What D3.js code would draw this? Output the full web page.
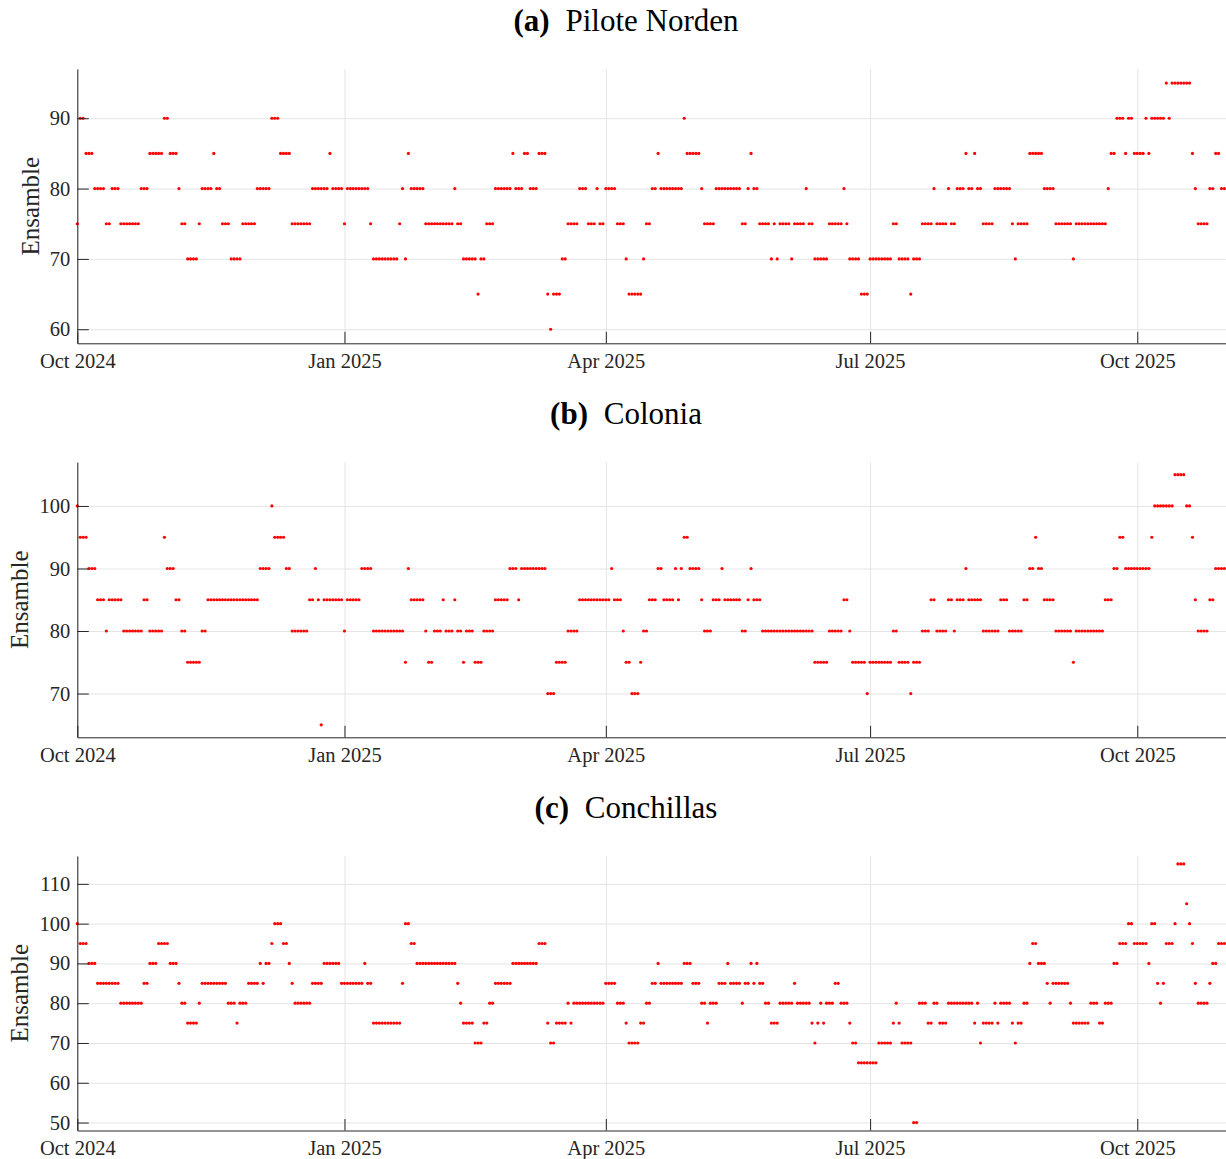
<!DOCTYPE html>
<html>
<head>
<meta charset="utf-8">
<script src="https://cdn.jsdelivr.net/npm/d3@7"></script>
<style>
  body { margin: 0; background: #fff; }
  svg { display: block; }
</style>
</head>
<body>
<svg id="chart" width="1226" height="1159"></svg>
<script>
// daily series, Oct 1 2024 onward, stored as [value, consecutive days]
const startDate = new Date(2024, 9, 1);
const endDate = new Date(2025, 10, 1);
const xTickDates = [new Date(2024, 9, 1), new Date(2025, 0, 1), new Date(2025, 3, 1), new Date(2025, 6, 1), new Date(2025, 9, 1)];

const piloteNordenRuns = [
  [75,1],[90,2],[85,3],[80,4],[75,2],[80,3],[75,7],[80,3],[85,5],[90,2],[85,3],[80,1],[75,2],[70,4],[75,1],
  [80,4],[85,1],[80,2],[75,3],[70,4],[75,5],[80,5],[90,3],[85,4],[75,7],[80,6],[85,1],[80,4],[75,1],[80,8],
  [75,1],[70,9],[75,1],[80,1],[70,1],[85,1],[80,5],[75,10],[80,1],[75,2],[70,5],[65,1],[70,2],[75,3],[80,6],
  [85,1],[80,3],[85,2],[80,3],[85,3],[65,1],[60,1],[65,3],[70,2],[75,4],[80,3],[75,3],[80,1],[75,2],[80,4],
  [75,3],[70,1],[65,5],[70,1],[75,2],[80,2],[85,1],[80,8],[90,1],[85,5],[80,1],[75,4],[80,9],[75,2],[80,1],
  [85,1],[80,2],[75,4],[70,1],[75,1],[70,1],[75,4],[70,1],[75,4],[80,1],[75,2],[70,5],[75,5],[80,1],[75,1],
  [70,4],[65,3],[70,8],[75,2],[70,4],[65,1],[70,3],[75,4],[80,1],[75,4],[80,1],[75,2],[80,3],[85,1],[80,2],
  [85,1],[80,2],[75,4],[80,6],[75,1],[70,1],[75,4],[85,5],[80,4],[75,6],[70,1],[75,11],[80,1],[85,2],[90,3],
  [85,1],[90,2],[85,4],[90,1],[85,1],[90,5],[95,1],[90,1],[95,7],[85,1],[80,1],[75,4],[80,2],[85,2],[80,2]
];

const coloniaRuns = [
  [100,1],[95,3],[90,3],[85,3],[80,1],[85,5],[80,7],[85,2],[80,5],[95,1],[90,3],[85,2],[80,2],[75,5],[80,2],
  [85,18],[90,4],[100,1],[95,4],[90,2],[80,6],[85,2],[90,1],[85,1],[65,1],[85,7],[80,1],[85,5],[90,4],[80,11],
  [75,1],[90,1],[85,5],[80,1],[75,2],[80,3],[85,1],[80,3],[85,1],[80,2],[75,1],[80,3],[75,3],[80,4],[85,5],
  [90,3],[85,1],[90,9],[70,3],[75,4],[80,4],[85,11],[90,1],[85,3],[80,1],[75,2],[70,3],[75,1],[80,2],[85,3],
  [90,2],[85,4],[90,1],[85,1],[90,1],[95,2],[90,4],[85,1],[80,3],[85,3],[90,1],[85,6],[80,2],[85,1],[90,1],
  [85,3],[80,18],[75,5],[80,5],[85,2],[80,1],[75,5],[70,1],[75,8],[80,2],[75,4],[70,1],[75,3],[80,3],[85,2],
  [80,4],[85,2],[80,1],[85,3],[90,1],[85,5],[80,6],[85,3],[80,5],[85,2],[90,2],[95,1],[90,2],[85,4],[80,6],
  [75,1],[80,10],[85,3],[90,2],[95,2],[90,9],[95,1],[100,7],[105,4],[100,2],[95,1],[85,1],[80,4],[85,2],[90,4]
];

const conchillasRuns = [
  [100,1],[95,3],[90,3],[85,8],[80,8],[85,2],[90,3],[95,4],[90,3],[85,1],[80,2],[75,4],[80,1],[85,9],[80,3],
  [75,1],[80,3],[85,4],[90,1],[85,1],[90,2],[95,1],[100,3],[95,2],[90,1],[85,1],[80,6],[85,4],[90,6],[85,8],
  [90,1],[85,2],[75,10],[85,1],[100,2],[95,2],[90,14],[85,1],[80,1],[75,4],[70,3],[75,2],[80,2],[85,6],[90,9],
  [95,3],[75,1],[70,2],[75,4],[80,1],[75,1],[80,11],[85,4],[80,3],[75,1],[70,4],[75,2],[80,2],[85,2],[90,1],
  [85,8],[90,3],[85,3],[80,2],[75,1],[80,3],[85,3],[90,1],[85,4],[80,1],[85,2],[90,1],[85,1],[90,1],[85,2],
  [80,2],[75,3],[80,5],[85,1],[80,5],[75,1],[70,1],[75,1],[80,1],[75,1],[80,3],[85,2],[80,3],[75,1],[70,2],
  [65,7],[70,5],[75,1],[80,1],[75,1],[70,4],[50,2],[80,3],[75,2],[80,2],[75,3],[80,9],[75,1],[80,1],[70,1],
  [75,4],[80,1],[75,1],[80,4],[75,1],[70,1],[75,2],[80,2],[90,1],[95,2],[90,3],[85,1],[80,1],[85,6],[80,1],
  [75,6],[80,3],[75,2],[80,3],[90,2],[95,3],[100,2],[95,5],[90,1],[100,2],[85,1],[80,1],[85,1],[95,3],[100,1],
  [115,3],[105,1],[100,1],[95,1],[85,1],[80,4],[85,1],[90,2],[95,3]
];

const panelLetters = ["(a)", "(b)", "(c)"];
const panelNames = ["Pilote Norden", "Colonia", "Conchillas"];
const yDomains = [[58, 97], [63, 107], [48, 117]];
const yTicks = [[60, 70, 80, 90], [70, 80, 90, 100], [50, 60, 70, 80, 90, 100, 110]];
const yLabel = "Ensamble";

const svg = d3.select("#chart");
const fontFamily = '"Liberation Serif", "Times New Roman", serif';
const inkColor = "#262626";
const left = 77.3, right = 1227.3;

const x = d3.scaleTime().domain([startDate, endDate]).range([left, right]);

function expand(runs) {
  const out = [];
  let day = 0;
  runs.forEach(([v, n]) => {
    for (let k = 0; k < n; k++) {
      out.push({ date: d3.timeDay.offset(startDate, day), value: v });
      day++;
    }
  });
  return out;
}

const panels = [
  { runs: piloteNordenRuns, top: 69.0, bottom: 343.3, labelX: 30 },
  { runs: coloniaRuns, top: 462.2, bottom: 737.3, labelX: 19 },
  { runs: conchillasRuns, top: 856.0, bottom: 1130.5, labelX: 19 }
];

panels.forEach((p, i) => {
  const y = d3.scaleLinear().domain(yDomains[i]).range([p.bottom, p.top]);
  const g = svg.append("g");
  const width = 1226 - left;

  // grid
  g.append("g")
    .attr("transform", `translate(${left},0)`)
    .call(d3.axisLeft(y).tickValues(yTicks[i]).tickSize(-width).tickFormat(""))
    .call(s => s.select(".domain").remove())
    .call(s => s.selectAll(".tick line").attr("stroke", "#e4e4e4").attr("stroke-width", 1));
  g.append("g")
    .attr("transform", `translate(0,${p.bottom})`)
    .call(d3.axisBottom(x).tickValues(xTickDates).tickSize(-(p.bottom - p.top)).tickFormat(""))
    .call(s => s.select(".domain").remove())
    .call(s => s.selectAll(".tick line").attr("stroke", "#e4e4e4").attr("stroke-width", 1));

  // points
  g.append("g").selectAll("circle")
    .data(expand(p.runs))
    .join("circle")
    .attr("cx", d => x(d.date))
    .attr("cy", d => y(d.value))
    .attr("r", 1.6)
    .attr("fill", "#ff0000");

  // axes
  const yAxis = g.append("g")
    .attr("transform", `translate(${left},0)`)
    .call(d3.axisLeft(y).tickValues(yTicks[i]).tickSizeInner(-11.5).tickSizeOuter(0).tickPadding(7));
  const xAxis = g.append("g")
    .attr("transform", `translate(0,${p.bottom})`)
    .call(d3.axisBottom(x).tickValues(xTickDates).tickSizeInner(-11.5).tickSizeOuter(0).tickPadding(10)
      .tickFormat(d3.timeFormat("%b %Y")));
  [yAxis, xAxis].forEach(a => {
    a.attr("font-family", fontFamily).attr("font-size", 20.5);
    a.select(".domain").attr("stroke", inkColor).attr("stroke-width", 1);
    a.selectAll(".tick line").attr("stroke", inkColor).attr("stroke-width", 1);
    a.selectAll(".tick text").attr("fill", inkColor);
  });

  // y label
  g.append("text")
    .attr("transform", `translate(${p.labelX},${(p.top + p.bottom) / 2}) rotate(-90)`)
    .attr("text-anchor", "middle")
    .attr("dy", "0.35em")
    .attr("font-family", fontFamily)
    .attr("font-size", 25)
    .attr("fill", inkColor)
    .text(yLabel);

  // title
  const t = g.append("text")
    .attr("x", 626)
    .attr("y", p.top - 38)
    .attr("text-anchor", "middle")
    .attr("font-family", fontFamily)
    .attr("font-size", 31)
    .attr("fill", "#000");
  t.append("tspan").attr("font-weight", "bold").text(panelLetters[i]);
  t.append("tspan").attr("dx", 8).text(" " + panelNames[i]);
});
</script>
</body>
</html>
